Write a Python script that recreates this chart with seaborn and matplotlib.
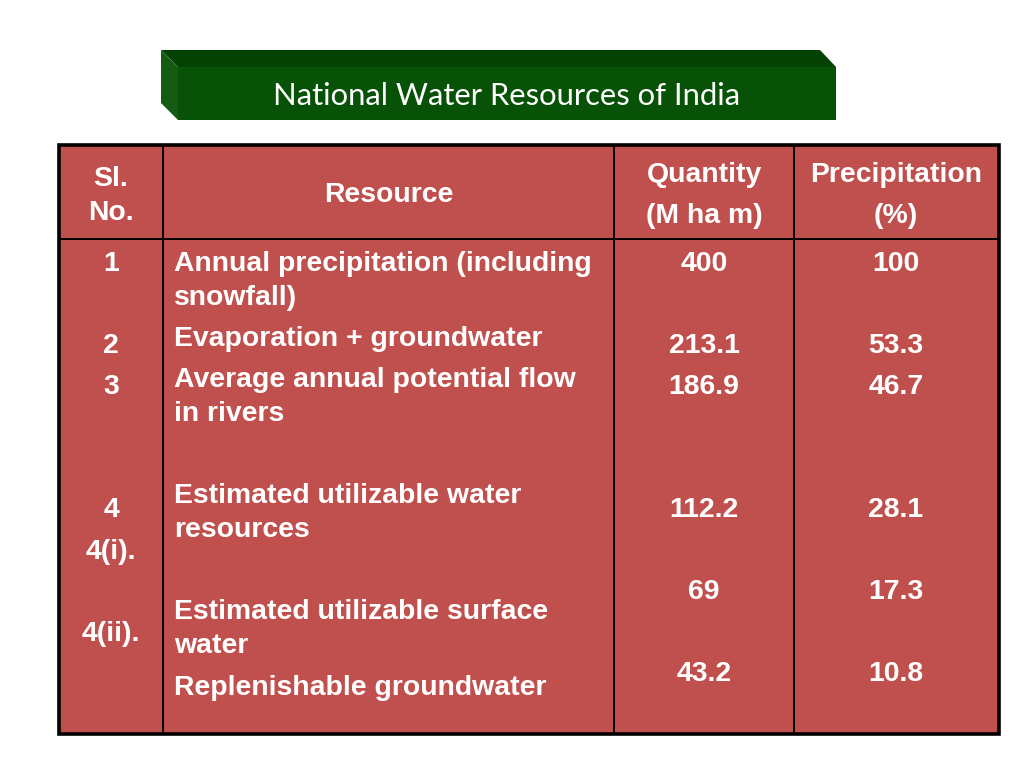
"""National Water Resources of India table, redrawn with seaborn."""

import matplotlib

matplotlib.use("Agg")
import matplotlib.pyplot as plt
import numpy as np
import seaborn as sns
from matplotlib.colors import ListedColormap
from matplotlib.patches import Polygon, Rectangle

# --- table content -------------------------------------------------------
title = "National Water Resources of India"
header_sl = ["Sl.", "No."]
header_resource = "Resource"
header_quantity = ["Quantity", "(M ha m)"]
header_precip = ["Precipitation", "(%)"]

sl_no = ["1", "2", "3", "4", "4(i).", "4(ii)."]
resources = [
    "Annual precipitation (including\nsnowfall)",
    "Evaporation + groundwater",
    "Average annual potential flow\nin rivers",
    "Estimated utilizable water\nresources",
    "Estimated utilizable surface\nwater",
    "Replenishable groundwater",
]
quantity = ["400", "213.1", "186.9", "112.2", "69", "43.2"]
precipitation = ["100", "53.3", "46.7", "28.1", "17.3", "10.8"]

# --- layout (pixels on a 1024x768 canvas) --------------------------------
W, H = 1024, 768
col_edges = [59, 163, 614, 794, 999]
row_top, header_bottom, row_bottom = 145, 239, 734
sl_y = [262, 344, 385, 508, 550, 632]
res_y = [262, 337, 378, 494, 610, 686]
num_y = [262, 344, 385, 508, 590, 672]
line_gap = 34
dy = 2  # centre offset of bold text

FILL = "#C0504D"
TEXT = "white"
BODY_FONT = ["Liberation Sans", "DejaVu Sans"]
FS = 20.4

sns.set_theme(style="white")

fig = plt.figure(figsize=(W / 100, H / 100), dpi=100)

# table background as a one-cell seaborn heatmap
tab_ax = fig.add_axes([
    col_edges[0] / W,
    1 - row_bottom / H,
    (col_edges[-1] - col_edges[0]) / W,
    (row_bottom - row_top) / H,
])
sns.heatmap(np.zeros((1, 1)), cmap=ListedColormap([FILL]), cbar=False,
            xticklabels=False, yticklabels=False, ax=tab_ax)
tab_ax.set_axis_off()

# overlay axes in pixel coordinates
ax = fig.add_axes([0, 0, 1, 1])
ax.set_xlim(0, W)
ax.set_ylim(H, 0)
ax.patch.set_visible(False)
ax.set_axis_off()

# grid lines
for x in col_edges[1:-1]:
    ax.plot([x, x], [row_top, row_bottom], color="black", lw=1.4)
ax.plot([col_edges[0], col_edges[-1]], [header_bottom, header_bottom], color="black", lw=1.4)
ax.add_patch(Rectangle((col_edges[0], row_top), col_edges[-1] - col_edges[0],
                       row_bottom - row_top, fill=False, ec="black", lw=2.6))

# banner (3-D box)
ax.add_patch(Polygon([(161, 50), (820, 50), (836, 67), (178, 67)], closed=True,
                     fc="#034203", ec="none"))
ax.add_patch(Polygon([(161, 50), (178, 67), (178, 120), (161, 103)], closed=True,
                     fc="#145C14", ec="none"))
ax.add_patch(Rectangle((178, 67), 836 - 178, 120 - 67, fc="#075207", ec="none"))
ax.text(507, 96, title, ha="center", va="center", color=TEXT,
        fontsize=22.3, family=["Lato", "DejaVu Sans"])

# header
txt = dict(color=TEXT, fontsize=FS, fontweight="bold", family=BODY_FONT,
           ha="center", va="center")
for part, y in zip(header_sl, [177, 211]):
    ax.text(111, y + dy, part, **txt)
ax.text(389, 193 + dy, header_resource, **txt)
for part, y in zip(header_quantity, [173, 214]):
    ax.text(704, y + dy, part, **txt)
for part, y in zip(header_precip, [173, 214]):
    ax.text(896, y + dy, part, **txt)

# body
body = dict(color=TEXT, fontsize=FS, fontweight="bold", family=BODY_FONT, va="center")
for label, y in zip(sl_no, sl_y):
    ax.text(111, y + dy, label, ha="center", **body)
for label, y in zip(resources, res_y):
    for i, part in enumerate(label.split("\n")):
        ax.text(174, y + dy + i * line_gap, part, ha="left", **body)
for label, y in zip(quantity, num_y):
    ax.text(704, y + dy, label, ha="center", **body)
for label, y in zip(precipitation, num_y):
    ax.text(896, y + dy, label, ha="center", **body)

fig.savefig("out.png", dpi=100)
plt.close(fig)
